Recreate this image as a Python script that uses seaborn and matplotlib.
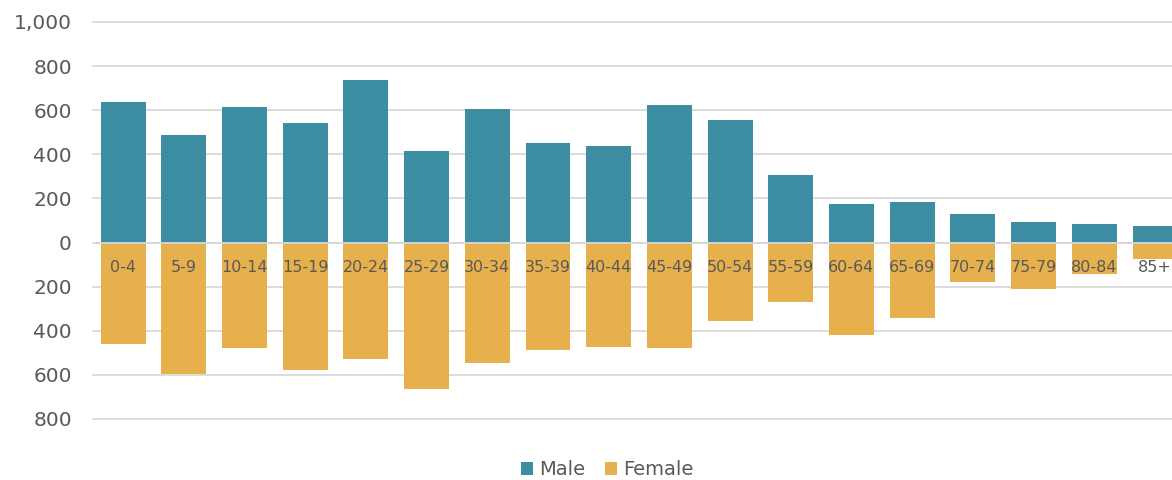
import matplotlib
matplotlib.use("Agg")
import matplotlib.pyplot as plt
import seaborn as sns
import pandas as pd
from matplotlib.ticker import FixedLocator, FuncFormatter

# Population by five-year age group
age_groups = ["0-4", "5-9", "10-14", "15-19", "20-24", "25-29", "30-34", "35-39",
              "40-44", "45-49", "50-54", "55-59", "60-64", "65-69", "70-74",
              "75-79", "80-84", "85+"]
male = [636, 486, 615, 544, 739, 415, 605, 452, 439, 624, 555, 306, 177, 185,
        130, 91, 85, 76]
female = [458, 597, 479, 579, 529, 665, 545, 486, 474, 480, 356, 268, 420, 341,
          180, 211, 144, 76]

MALE_COLOR = "#3D8DA2"
FEMALE_COLOR = "#E6B04C"
TEXT_COLOR = "#595959"
GRID_COLOR = "#D9D9D9"

# Long-form table: females plotted below the zero line
df = pd.concat([
    pd.DataFrame({"age": age_groups, "sex": "Male", "count": male}),
    pd.DataFrame({"age": age_groups, "sex": "Female", "count": [-v for v in female]}),
], ignore_index=True)

sns.set_theme(style="white")
plt.rcParams["font.family"] = ["DejaVu Sans"]

fig = plt.figure(figsize=(11.72, 4.80), dpi=100)
ax = fig.add_axes([0.0791, 0.1271, 0.9323, 0.8271])

sns.barplot(data=df, x="age", y="count", hue="sex", order=age_groups,
            hue_order=["Male", "Female"],
            palette={"Male": MALE_COLOR, "Female": FEMALE_COLOR},
            dodge=False, width=0.74, saturation=1, linewidth=0, ax=ax,
            zorder=2)

ax.set_xlim(-0.5, len(age_groups) - 0.5)
ax.set_ylim(-800, 1000)
ax.yaxis.set_major_locator(FixedLocator(range(-800, 1001, 200)))
ax.yaxis.set_major_formatter(FuncFormatter(lambda v, _: f"{abs(int(v)):,}"))
ax.tick_params(axis="y", length=0, pad=15, labelsize=14.5, labelcolor=TEXT_COLOR)
ax.set_xticks([])
ax.set_xlabel("")
ax.set_ylabel("")

ax.grid(axis="y", color=GRID_COLOR, linewidth=1.3, zorder=0)
ax.set_axisbelow(True)
for line in ax.get_ygridlines():
    line.set_clip_on(False)
for s in ax.spines.values():
    s.set_visible(False)

# Category axis line across the bars at zero
ax.axhline(0, color=GRID_COLOR, linewidth=1.3, zorder=3)

# Age group labels just beneath the zero line
for i, label in enumerate(age_groups):
    ax.annotate(label, xy=(i, 0), xytext=(0, -21.5), textcoords="offset points",
                ha="center", va="baseline", fontsize=11.5, color=TEXT_COLOR,
                zorder=4)

handles, labels = ax.get_legend_handles_labels()
ax.legend(handles, labels, loc="center", bbox_to_anchor=(0.518, 0.022),
          bbox_transform=fig.transFigure, ncol=2, frameon=False,
          handlelength=0.65, handleheight=0.65, handletextpad=0.3,
          columnspacing=1.0, fontsize=14, labelcolor=TEXT_COLOR)

fig.savefig("out.png", dpi=100)
